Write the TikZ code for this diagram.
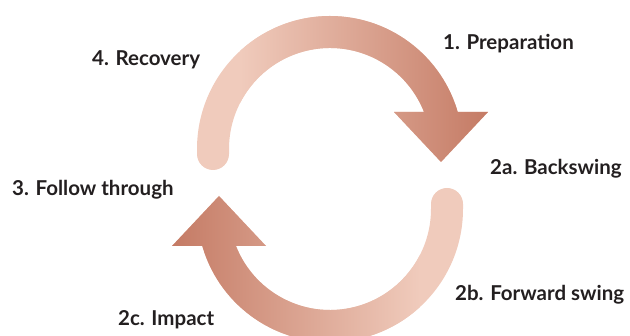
\documentclass[tikz,border=0pt]{standalone}
\usepackage{fontspec}
\setmainfont{Lato}
\usepackage{tikz}
\usetikzlibrary{positioning,calc}

\definecolor{swlight}{RGB}{240,203,188}
\definecolor{swdark}{RGB}{196,122,100}
\definecolor{swtext}{RGB}{35,31,32}

\tikzset{
  stage/.style={anchor=base west, inner sep=0pt, text=swtext,
    font=\fontsize{20.5}{24}\selectfont\bfseries}
}

\begin{document}
\begin{tikzpicture}[x=1pt,y=1pt]
    \useasboundingbox (0,0) rectangle (630,336);
    \clip (0,0) rectangle (630,336);

    % the two curved arrows, second one is the first turned half a turn
    \foreach \rot/\lc/\rc in {0/swlight/swdark,180/swdark/swlight}{
      \begin{scope}[rotate around={\rot:(330,157)}]
        \clip (197,182) -- (197,187) arc[start angle=180, end angle=12, radius=133]
          -- ($(330,187)+(12:101)$) arc[start angle=12, end angle=180, radius=101]
          -- (229,182) arc[start angle=0, end angle=-180, radius=16] -- cycle
          (394,224) -- (488,224) -- (441,174) -- cycle;
        \fill[swlight] (180,100) rectangle (500,330);
        \shade[left color=\lc, right color=\rc] (240,100) rectangle (490,330);
      \end{scope}
    }

    \node[stage] (prep)   at (443,286) {1. Preparation};
    \node[stage] (back)   at (490,161) {2a. Backswing};
    \node[stage] (fwd)    at (455,35)  {2b. Forward swing};
    \node[stage] (impact) at (118,10)  {2c. Impact};
    \node[stage] (follow) at (12,140)  {3. Follow through};
    \node[stage] (recov)  at (92,270)  {4. Recovery};
\end{tikzpicture}
\end{document}
